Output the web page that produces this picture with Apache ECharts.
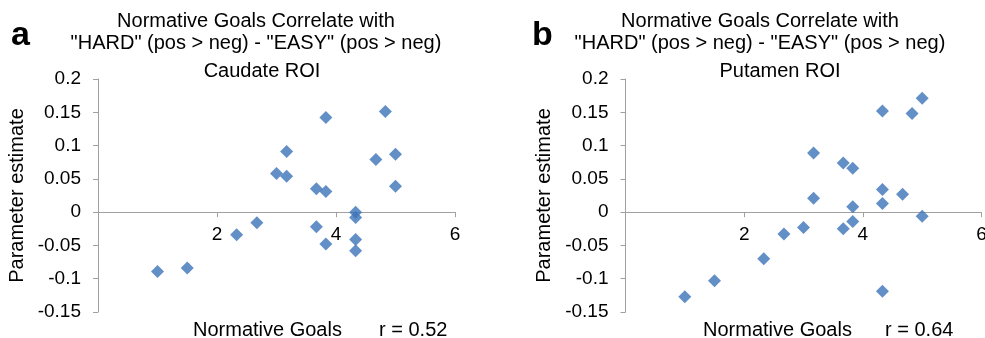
<!DOCTYPE html>
<html>
<head>
<meta charset="utf-8">
<script src="https://cdn.jsdelivr.net/npm/echarts@6/dist/echarts.min.js"></script>
<style>
  html, body { margin: 0; padding: 0; background: #fff; }
  #chart { width: 985px; height: 338px; }
</style>
</head>
<body>
<div id="chart"></div>
<script>
// Normative goals score per subject (x) and parameter estimate (y)
const caudateX = [1.0, 1.5, 2.33, 2.67, 3.0, 3.17, 3.17, 3.67, 3.83, 3.83, 3.67, 3.83, 4.33, 4.33, 4.33, 4.33, 4.67, 4.83, 5.0, 5.0];
const caudateY = [-0.089, -0.084, -0.034, -0.016, 0.058, 0.054, 0.091, 0.035, 0.031, 0.142, -0.022, -0.048, 0.0, -0.008, -0.041, -0.058, 0.079, 0.151, 0.087, 0.039];

const putamenX = [1.0, 1.5, 2.33, 2.67, 3.0, 3.17, 3.17, 3.67, 3.83, 3.83, 3.83, 3.67, 4.33, 4.33, 4.33, 4.33, 4.67, 4.83, 5.0, 5.0];
const putamenY = [-0.127, -0.103, -0.070, -0.033, -0.023, 0.089, 0.021, 0.074, 0.066, 0.008, -0.014, -0.025, 0.152, 0.034, 0.013, -0.119, 0.027, 0.148, 0.171, -0.006];

const panelLetters = ['a', 'b'];
const roiNames = ['Caudate ROI', 'Putamen ROI'];
const rValues = ['r = 0.52', 'r = 0.64'];
const mainTitle = 'Normative Goals Correlate with\n"HARD" (pos > neg) - "EASY" (pos > neg)';

const FONT = '"Liberation Sans", Arial, sans-serif';
const AXIS_GREY = '#a0a0a0';
const MARKER = '#3c73b9';

const Y_MIN = -0.15;
const Y_MAX = 0.2;
const GRID_H = 233;

const pairs = (xs, ys) => xs.map((x, i) => [x, ys[i]]);

const chart = echarts.init(document.getElementById('chart'));

// x axis drawn at y = 0 by shifting it up from the grid bottom
const xAxisOf = (gridIndex) => ({
  gridIndex,
  type: 'value',
  min: 0,
  max: 6,
  interval: 2,
  offset: -GRID_H * (0 - Y_MIN) / (Y_MAX - Y_MIN),
  splitLine: { show: false },
  axisLine: { onZero: false, lineStyle: { color: AXIS_GREY, width: 1 } },
  axisTick: { show: true, length: 5, lineStyle: { color: AXIS_GREY } },
  axisLabel: {
    color: '#000', fontSize: 19, fontFamily: FONT, margin: 13,
    formatter: (v) => (v === 0 ? '' : String(v))
  }
});

const yAxisOf = (gridIndex) => ({
  gridIndex,
  type: 'value',
  min: Y_MIN,
  max: Y_MAX,
  interval: 0.05,
  name: 'Parameter estimate',
  nameLocation: 'middle',
  nameRotate: 90,
  nameGap: 71,
  nameTextStyle: { color: '#000', fontSize: 20, fontFamily: FONT },
  splitLine: { show: false },
  axisLine: { show: true, lineStyle: { color: AXIS_GREY, width: 1 } },
  axisTick: { show: true, length: 5, lineStyle: { color: AXIS_GREY } },
  axisLabel: {
    color: '#000', fontSize: 19, fontFamily: FONT, margin: 17,
    formatter: (v) => String(Math.round(v * 100) / 100)
  }
});

const titleText = { color: '#000', fontSize: 20, fontWeight: 'normal', fontFamily: FONT, lineHeight: 21.5 };

const option = {
  animation: false,
  backgroundColor: '#fff',
  title: [
    { text: mainTitle, left: 256, top: 11, textAlign: 'center', padding: 0, textStyle: titleText },
    { text: roiNames[0], left: 262, top: 61, textAlign: 'center', padding: 0, textStyle: titleText },
    { text: mainTitle, left: 760, top: 11, textAlign: 'center', padding: 0, textStyle: titleText },
    { text: roiNames[1], left: 780, top: 61, textAlign: 'center', padding: 0, textStyle: titleText }
  ],
  graphic: [
    { type: 'text', left: 11, top: 19, style: { text: panelLetters[0], font: 'bold 34px ' + FONT, fill: '#000' } },
    { type: 'text', left: 532, top: 19, style: { text: panelLetters[1], font: 'bold 34px ' + FONT, fill: '#000' } },
    { type: 'text', left: 193, top: 320, style: { text: 'Normative Goals', font: '20px ' + FONT, fill: '#000' } },
    { type: 'text', left: 379, top: 320, style: { text: rValues[0], font: '20px ' + FONT, fill: '#000' } },
    { type: 'text', left: 703, top: 320, style: { text: 'Normative Goals', font: '20px ' + FONT, fill: '#000' } },
    { type: 'text', left: 885, top: 320, style: { text: rValues[1], font: '20px ' + FONT, fill: '#000' } }
  ],
  grid: [
    { left: 98, top: 79, width: 357, height: GRID_H, outerBoundsMode: 'none' },
    { left: 625.5, top: 79, width: 356, height: GRID_H, outerBoundsMode: 'none' }
  ],
  xAxis: [xAxisOf(0), xAxisOf(1)],
  yAxis: [yAxisOf(0), yAxisOf(1)],
  series: [
    {
      type: 'scatter', xAxisIndex: 0, yAxisIndex: 0,
      symbol: 'diamond', symbolSize: 13,
      itemStyle: { color: MARKER },
      data: pairs(caudateX, caudateY)
    },
    {
      type: 'scatter', xAxisIndex: 1, yAxisIndex: 1,
      symbol: 'diamond', symbolSize: 13,
      itemStyle: { color: MARKER },
      data: pairs(putamenX, putamenY)
    }
  ]
};

chart.setOption(option);
</script>
</body>
</html>
